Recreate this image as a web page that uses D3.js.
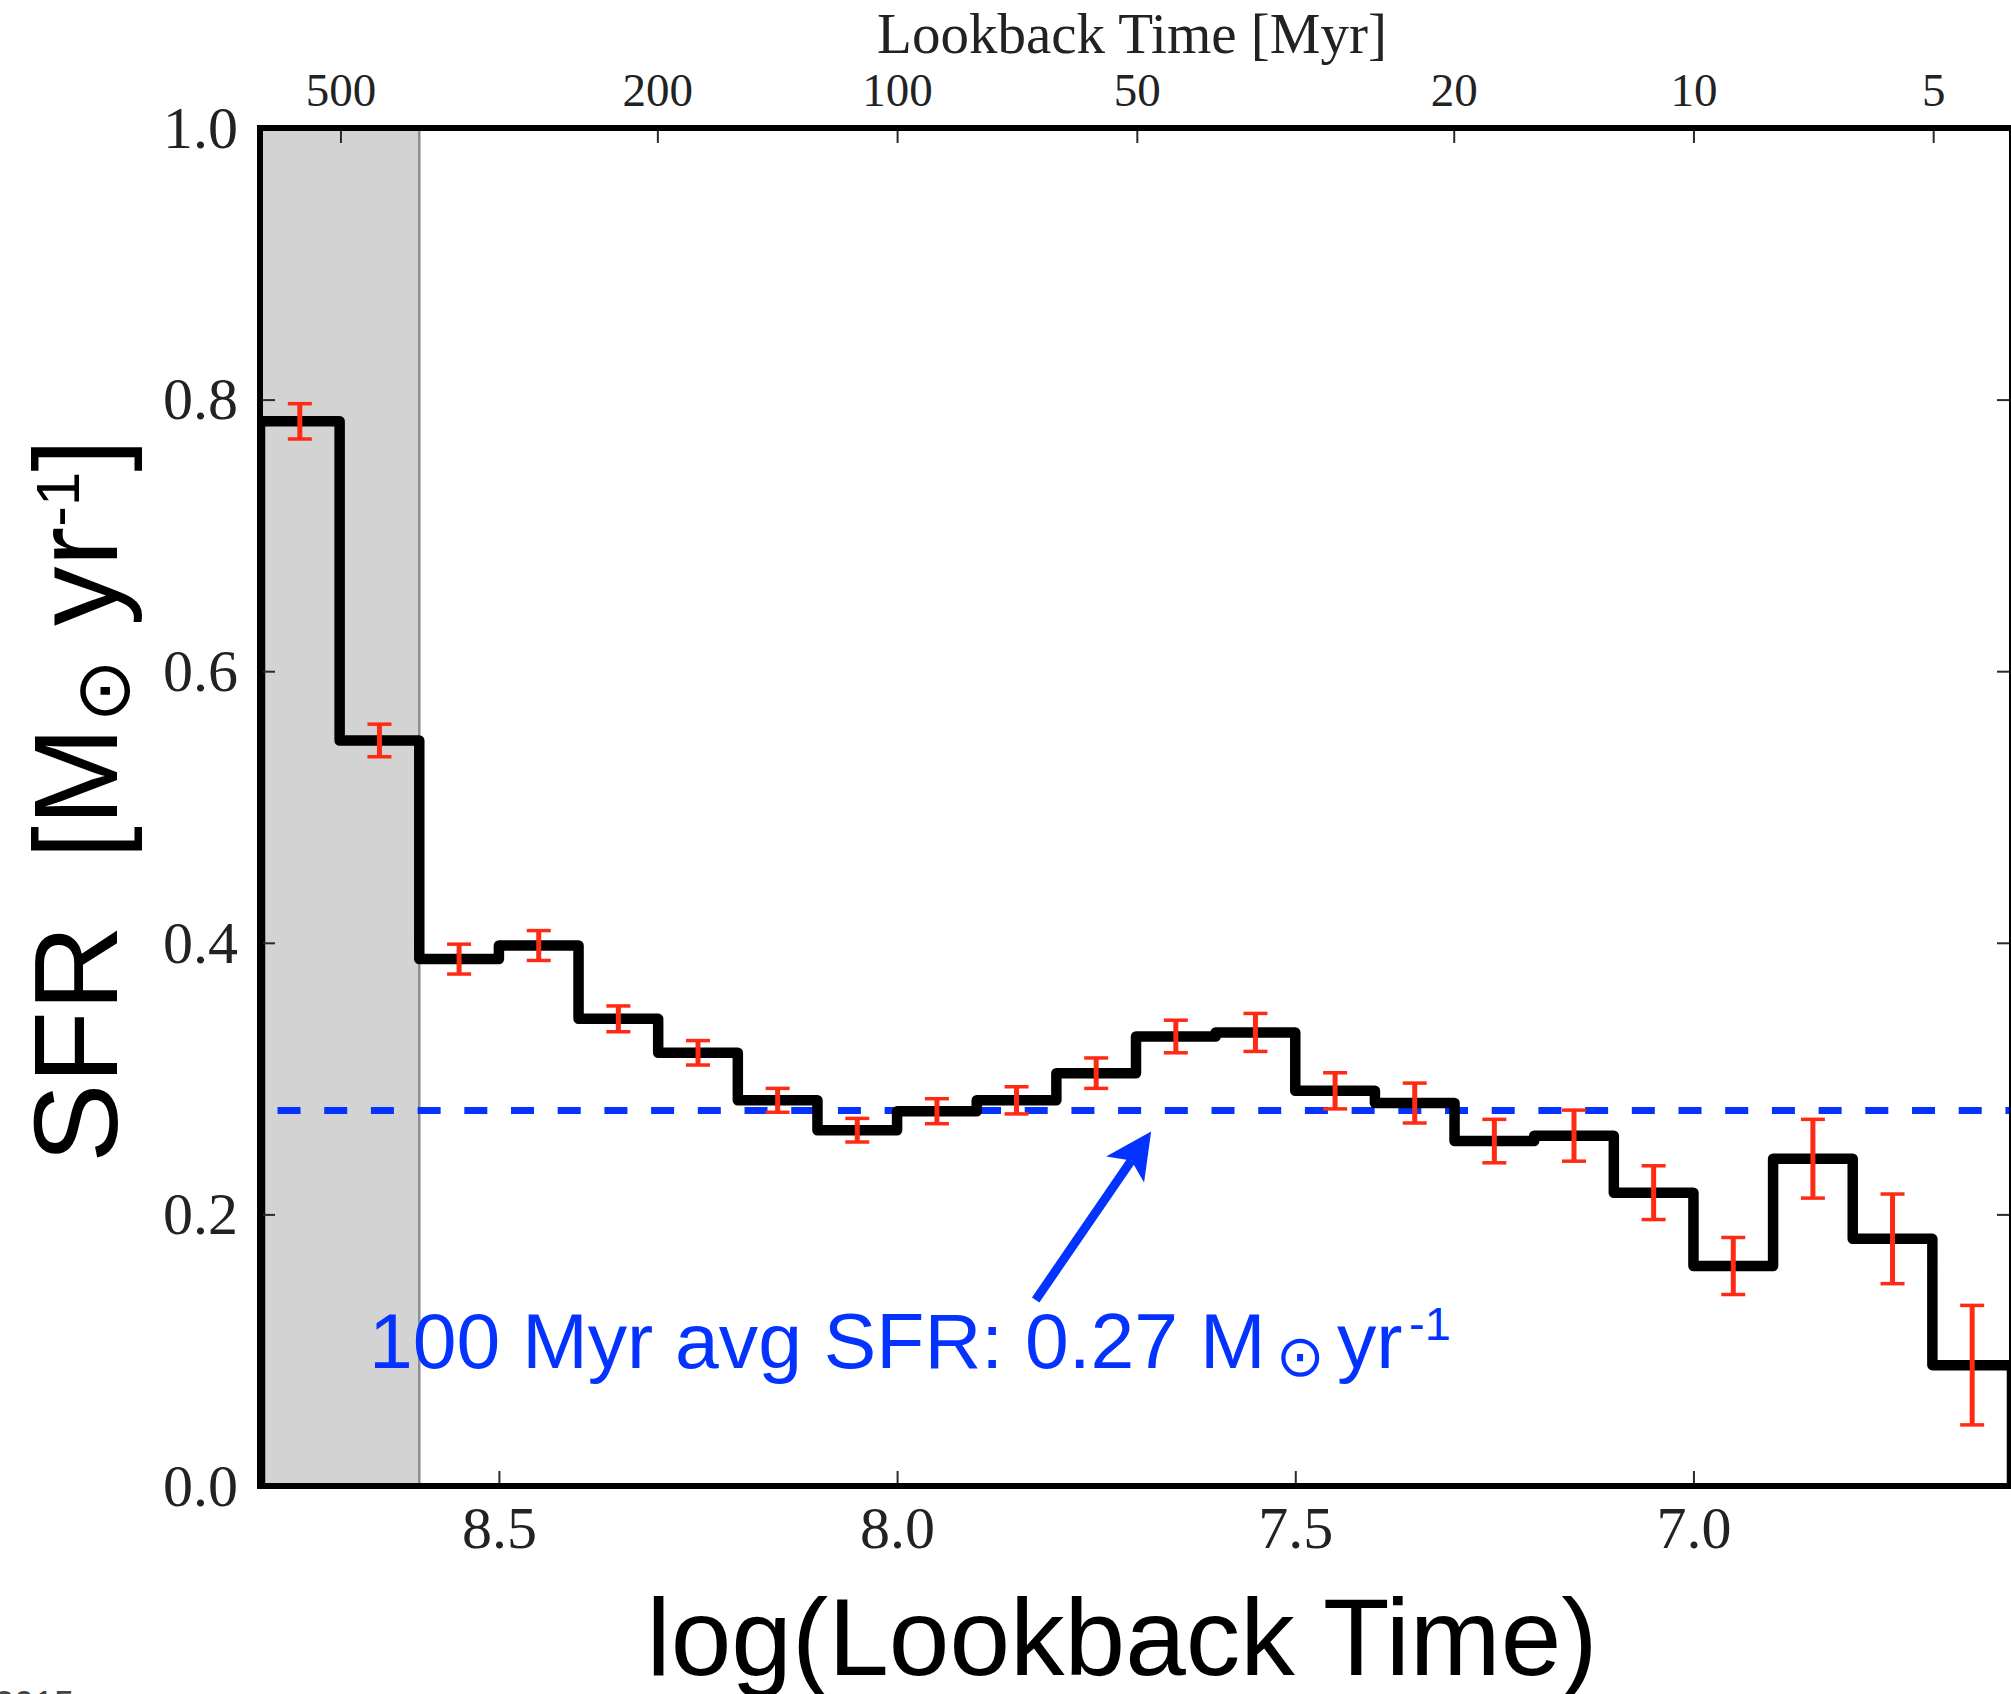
<!DOCTYPE html>
<html>
<head>
<meta charset="utf-8">
<script src="https://cdn.jsdelivr.net/npm/d3@7"></script>
<style>
  html, body { margin: 0; padding: 0; background: #ffffff; }
  svg { display: block; }
  text { white-space: pre; }
</style>
</head>
<body>
<svg id="chart" width="2011" height="1694"></svg>
<script>
// ---------------- data ----------------
const binLeft  = [8.8, 8.7, 8.6, 8.5, 8.4, 8.3, 8.2, 8.1, 8.0, 7.9, 7.8, 7.7, 7.6, 7.5, 7.4, 7.3, 7.2, 7.1, 7.0, 6.9, 6.8, 6.7];
const binRight = [8.7, 8.6, 8.5, 8.4, 8.3, 8.2, 8.1, 8.0, 7.9, 7.8, 7.7, 7.6, 7.5, 7.4, 7.3, 7.2, 7.1, 7.0, 6.9, 6.8, 6.7, 6.6];
const sfr      = [0.784, 0.549, 0.388, 0.398, 0.344, 0.319, 0.284, 0.262, 0.276, 0.284, 0.304, 0.331, 0.334, 0.291, 0.282, 0.254, 0.258, 0.216, 0.162, 0.241, 0.182, 0.089];
const sfrErr   = [0.013, 0.012, 0.011, 0.011, 0.0095, 0.009, 0.0088, 0.0087, 0.0092, 0.010, 0.0112, 0.012, 0.014, 0.0133, 0.0147, 0.016, 0.0188, 0.0198, 0.021, 0.029, 0.033, 0.044];
const avgSFR = 0.2765;
const avgLineRange = [8.778, 6.6];
const shadeRange = [8.8, 8.6];
const xDomain = [8.8, 6.6];
const yDomain = [0, 1];
const bottomTicks = [8.5, 8.0, 7.5, 7.0];
const leftTicks = [0.0, 0.2, 0.4, 0.6, 0.8, 1.0];
const topTicksMyr = [500, 200, 100, 50, 20, 10, 5];
const arrowFrom = [7.826, 0.137];   // (log t, SFR) of arrow tail
const arrowTo   = [7.681, 0.261];   // (log t, SFR) of arrow tip
const xLabel = "log(Lookback Time)";
const topLabel = "Lookback Time [Myr]";

// ---------------- layout ----------------
const svg = d3.select("#chart");
const x = d3.scaleLinear().domain(xDomain).range([260, 2012]);
const y = d3.scaleLinear().domain(yDomain).range([1486, 128]);
const blue = "#0433ff";
const red = "#ff2a14";
const serif = "'Liberation Serif', 'DejaVu Serif', serif";
const sans = "'Liberation Sans', Arial, Helvetica, sans-serif";
const symFont = "'DejaVu Sans', sans-serif";

svg.append("defs").append("clipPath").attr("id", "plotclip")
  .append("rect")
  .attr("x", x(xDomain[0])).attr("y", y(yDomain[1]))
  .attr("width", x(xDomain[1]) - x(xDomain[0]))
  .attr("height", y(yDomain[0]) - y(yDomain[1]));

// shaded region
svg.append("rect")
  .attr("x", x(shadeRange[0])).attr("y", y(1))
  .attr("width", x(shadeRange[1]) - x(shadeRange[0]))
  .attr("height", y(0) - y(1))
  .attr("fill", "#d3d3d3");
svg.append("line")
  .attr("x1", x(shadeRange[1])).attr("x2", x(shadeRange[1]))
  .attr("y1", y(0)).attr("y2", y(1))
  .attr("stroke", "#8e8e8e").attr("stroke-width", 2.5);

// dashed average line
svg.append("line")
  .attr("x1", x(avgLineRange[0])).attr("x2", x(avgLineRange[1]))
  .attr("y1", y(avgSFR)).attr("y2", y(avgSFR))
  .attr("stroke", blue).attr("stroke-width", 7)
  .attr("stroke-dasharray", "23 23.7")
  .attr("clip-path", "url(#plotclip)");

// step histogram
const stepPts = [[binLeft[0], 0]];
sfr.forEach((v, i) => { stepPts.push([binLeft[i], v]); stepPts.push([binRight[i], v]); });
stepPts.push([binRight[binRight.length - 1], 0]);
svg.append("path")
  .attr("d", d3.line().x(d => x(d[0])).y(d => y(d[1]))(stepPts))
  .attr("fill", "none").attr("stroke", "#000").attr("stroke-width", 10.5)
  .attr("stroke-linejoin", "round")
  .attr("clip-path", "url(#plotclip)");

// error bars
const eb = svg.append("g").attr("clip-path", "url(#plotclip)");
sfr.forEach((v, i) => {
  const cx = x((binLeft[i] + binRight[i]) / 2);
  const g = eb.append("g");
  g.append("line").attr("x1", cx).attr("x2", cx)
    .attr("y1", y(v - sfrErr[i])).attr("y2", y(v + sfrErr[i]))
    .attr("stroke", red).attr("stroke-width", 5);
  [v - sfrErr[i], v + sfrErr[i]].forEach(yy => {
    g.append("line").attr("x1", cx - 12).attr("x2", cx + 12)
      .attr("y1", y(yy)).attr("y2", y(yy))
      .attr("stroke", red).attr("stroke-width", 3.5);
  });
});

// axes
function styleAxis(g) {
  g.select(".domain").remove();
  g.selectAll(".tick line").attr("stroke", "#2a2a2a").attr("stroke-width", 2);
  g.selectAll("text").attr("fill", "#222").attr("font-family", serif);
}
svg.append("g").attr("transform", `translate(0,${y(0)})`)
  .call(d3.axisBottom(x).tickValues(bottomTicks).tickFormat(d3.format(".1f")).tickSize(-15).tickPadding(19))
  .call(styleAxis)
  .selectAll("text").attr("font-size", 60);
svg.append("g").attr("transform", `translate(${x(xDomain[0])},0)`)
  .call(d3.axisLeft(y).tickValues(leftTicks).tickFormat(d3.format(".1f")).tickSize(-15).tickPadding(22))
  .call(styleAxis)
  .selectAll("text").attr("font-size", 60);
svg.append("g").attr("transform", `translate(${x(xDomain[1])},0)`)
  .call(d3.axisRight(y).tickValues(leftTicks).tickFormat("").tickSize(-15))
  .call(styleAxis);
svg.append("g").attr("transform", `translate(0,${y(1)})`)
  .call(d3.axisTop(x).tickValues(topTicksMyr.map(t => Math.log10(t * 1e6)))
    .tickFormat((d, i) => String(topTicksMyr[i])).tickSize(-15).tickPadding(22))
  .call(styleAxis)
  .selectAll("text").attr("font-size", 47);

// frame
svg.append("rect")
  .attr("x", x(xDomain[0])).attr("y", y(1))
  .attr("width", x(xDomain[1]) - x(xDomain[0]))
  .attr("height", y(0) - y(1))
  .attr("fill", "none").attr("stroke", "#000").attr("stroke-width", 6);

// axis titles
svg.append("text").attr("x", 1122).attr("y", 1675)
  .attr("text-anchor", "middle").attr("font-family", sans).attr("font-size", 109)
  .attr("fill", "#000").text(xLabel);
svg.append("text").attr("x", 1132).attr("y", 53)
  .attr("text-anchor", "middle").attr("font-family", serif).attr("font-size", 57)
  .attr("fill", "#222").text(topLabel);

const yl = svg.append("text")
  .attr("transform", "translate(117,1163) rotate(-90)")
  .attr("font-family", sans).attr("font-size", 119).attr("fill", "#000");
yl.append("tspan").text("SFR  [M");
yl.append("tspan").attr("font-family", symFont).attr("font-size", 76).attr("dx", 4).attr("dy", 12).text("\u2299");
yl.append("tspan").attr("dy", -12).text(" yr");
yl.append("tspan").attr("font-size", 62).attr("dy", -38).text("-1");
yl.append("tspan").attr("dy", 38).text("]");

// annotation
const ann = svg.append("text").attr("x", 369).attr("y", 1368)
  .attr("font-family", sans).attr("font-size", 78.7).attr("fill", blue);
ann.append("tspan").text("100 Myr avg SFR: 0.27 M");
ann.append("tspan").attr("x", 1276).attr("font-family", symFont).attr("font-size", 58).attr("dy", 8).text("\u2299");
ann.append("tspan").attr("x", 1337).attr("dy", -8).text("yr");
ann.append("tspan").attr("x", 1409).attr("font-size", 47).attr("dy", -28).text("-1");

// arrow
const ax0 = x(arrowFrom[0]), ay0 = y(arrowFrom[1]);
const ax1 = x(arrowTo[0]), ay1 = y(arrowTo[1]);
const len = Math.hypot(ax1 - ax0, ay1 - ay0);
const ux = (ax1 - ax0) / len, uy = (ay1 - ay0) / len;
const nx = -uy, ny = ux;
const headLen = 46, headHalf = 23, notch = 35;
svg.append("line")
  .attr("x1", ax0).attr("y1", ay0)
  .attr("x2", ax1 - ux * notch).attr("y2", ay1 - uy * notch)
  .attr("stroke", blue).attr("stroke-width", 9);
const head = [
  [ax1, ay1],
  [ax1 - ux * headLen + nx * headHalf, ay1 - uy * headLen + ny * headHalf],
  [ax1 - ux * notch, ay1 - uy * notch],
  [ax1 - ux * headLen - nx * headHalf, ay1 - uy * headLen - ny * headHalf]
];
svg.append("polygon").attr("points", head.map(p => p.join(",")).join(" ")).attr("fill", blue);

// cropped footer text at the very bottom-left
svg.append("text").attr("x", -6).attr("y", 1717).attr("font-family", sans)
  .attr("font-size", 36).attr("fill", "#444").text("2015");
</script>
</body>
</html>
